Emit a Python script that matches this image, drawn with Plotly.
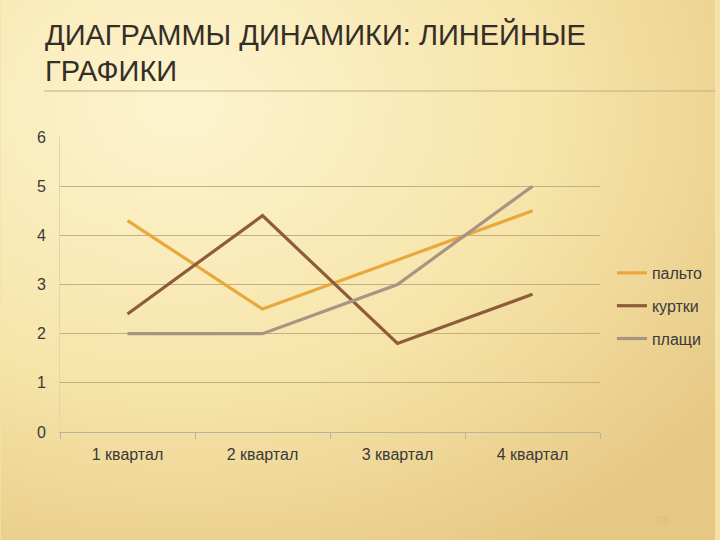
import base64
import plotly.graph_objects as go

quarters = ["1 квартал", "2 квартал", "3 квартал", "4 квартал"]
palto = [4.3, 2.5, 3.5, 4.5]
kurtki = [2.4, 4.4, 1.8, 2.8]
plaschi = [2.0, 2.0, 3.0, 5.0]

series = [
    ("пальто", palto, "#E9A83C"),
    ("куртки", kurtki, "#8E5B3B"),
    ("плащи", plaschi, "#A99382"),
]

fig = go.Figure()
for name, vals, col in series:
    fig.add_trace(go.Scatter(
        x=quarters, y=vals, name=name, mode="lines", legendgroup=name,
        line=dict(color=col, width=3.2),
    ))

# background gradient for the slide
svg = """<svg xmlns='http://www.w3.org/2000/svg' width='720' height='540'>
<defs><radialGradient id='g' cx='0.25' cy='0.2' r='0.95'>
<stop offset='0' stop-color='#fdf4cf'/>
<stop offset='0.55' stop-color='#f6e4a9'/>
<stop offset='1' stop-color='#e6c883'/>
</radialGradient></defs>
<rect width='720' height='540' fill='url(#g)'/></svg>"""
src = "data:image/svg+xml;base64," + base64.b64encode(svg.encode()).decode()

L, R, T, B = 60, 116, 137, 108
pw, ph = 720 - L - R, 540 - T - B


def px(x):
    return (x - L) / pw


def py(y):
    return (540 - B - y) / ph


fig.add_layout_image(dict(
    source=src, xref="paper", yref="paper",
    x=px(0), y=py(0), sizex=720 / pw, sizey=540 / ph,
    xanchor="left", yanchor="top", sizing="stretch", layer="below",
))

title_font = dict(family="Liberation Sans Narrow, Arial Narrow, sans-serif",
                  size=29, color="#352e27")
fig.add_annotation(text="ДИАГРАММЫ ДИНАМИКИ: ЛИНЕЙНЫЕ", xref="paper", yref="paper",
                   x=px(43), y=py(35), xanchor="left", yanchor="middle",
                   showarrow=False, font=title_font)
fig.add_annotation(text="ГРАФИКИ", xref="paper", yref="paper",
                   x=px(43), y=py(71), xanchor="left", yanchor="middle",
                   showarrow=False, font=title_font)
fig.add_shape(type="line", xref="paper", yref="paper",
              x0=px(44), x1=px(720), y0=py(91), y1=py(91),
              line=dict(color="#bfae80", width=1.2))
fig.add_annotation(
    text="28", xref="paper", yref="paper", x=px(667), y=py(520),
    xanchor="center", yanchor="middle", showarrow=False,
    font=dict(family="Arial", size=10, color="#d6c088"),
)

fig.update_layout(
    width=720, height=540,
    margin=dict(l=L, r=R, t=T, b=B),
    paper_bgcolor="#f4e2a8",
    plot_bgcolor="rgba(0,0,0,0)",
    font=dict(family="Liberation Sans, Arial, sans-serif", size=16, color="#3a3a3a"),
    showlegend=True,
    legend=dict(x=px(616), y=py(306), xanchor="left", yanchor="middle",
                bgcolor="rgba(0,0,0,0)", font=dict(size=16),
                tracegroupgap=9, itemwidth=30),
)
fig.update_xaxes(
    type="category", range=[-0.5, 3.5], showgrid=False,
    showline=True, linecolor="#b7b2a3", linewidth=1.2,
    ticks="outside", tickson="boundaries", ticklen=6, tickcolor="#b7b2a3",
    ticklabelstandoff=8,
)
fig.update_yaxes(
    range=[0, 6], dtick=1, showgrid=True, gridcolor="#c2b07e", gridwidth=1,
    showline=True, linecolor="#e0d5b0", zeroline=False, ticks="",
    ticklabelstandoff=10,
)

fig.write_html("out.html", config={"displayModeBar": False},
               post_script="document.body.style.margin='0';")
